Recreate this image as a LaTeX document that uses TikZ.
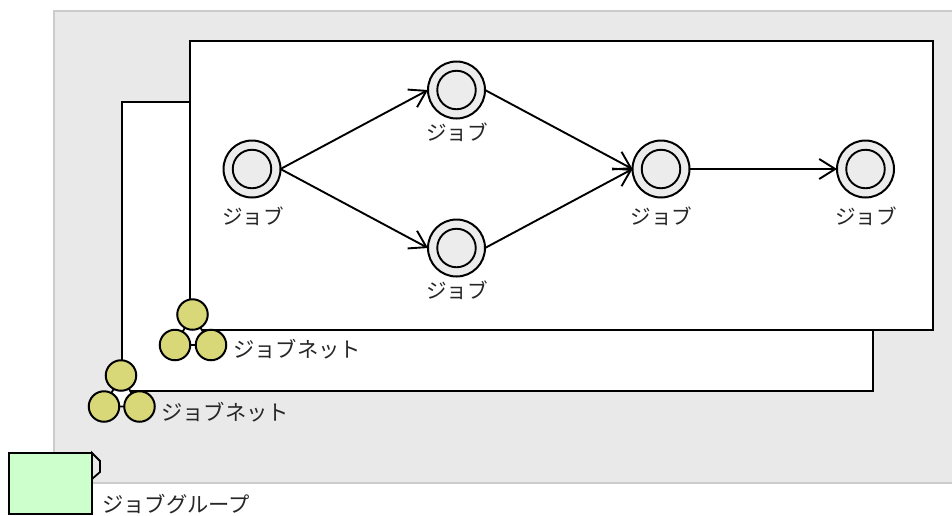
\documentclass[tikz,border=0pt]{standalone}
\usepackage{fontspec}
\setmainfont{Noto Sans CJK JP}
\usetikzlibrary{arrows.meta}
\definecolor{areagray}{HTML}{E9E9E9}
\definecolor{areaedge}{HTML}{CCCCCC}
\definecolor{jobfill}{HTML}{ECECEC}
\definecolor{netfill}{HTML}{D8D878}
\definecolor{groupfill}{HTML}{CCFFCC}
\tikzset{
  x=1pt,y=-1pt,
  panel/.style={draw=black,line width=2pt,fill=white},
  jobouter/.style={circle,draw=black,line width=2pt,fill=jobfill,minimum size=57pt,inner sep=0pt,outer sep=0pt},
  jobinner/.style={circle,draw=black,line width=1.9pt,fill=jobfill,minimum size=38.5pt,inner sep=0pt},
  netball/.style={circle,draw=black,line width=2pt,fill=netfill,minimum size=30.5pt,inner sep=0pt,outer sep=0pt},
  lbl/.style={inner sep=0pt,font=\fontsize{21.3pt}{24pt}\selectfont,text=black!85},
  joblbl/.style={lbl,font=\fontsize{20.6pt}{24pt}\selectfont},
  flow/.style={draw=black,line width=1.9pt,-{Straight Barb[length=16pt,width=20pt,line width=1.9pt]}},
}
\begin{document}
\begin{tikzpicture}
\useasboundingbox (0,0) rectangle (952,515);
\path[fill=areagray,draw=areaedge,line width=1.8pt] (54,11) -- (953,11) -- (953,483) -- (54,483) -- cycle;
\path[panel] (122,102) rectangle (873,391);
\path[panel] (190,41) rectangle (933,330);
% job nodes
\foreach \n/\cx/\cy in {j1/252/169,j2/456.5/90,j3/456.5/248,j4/661/169,j5/865.5/169}{
  \node[jobouter] (\n) at (\cx,\cy) {};
  \node[jobinner] (\n i) at (\cx,\cy) {};
}
\node[joblbl] (l1) at (253,216.5) {ジョブ};
\node[joblbl] (l2) at (457,132.5) {ジョブ};
\node[joblbl] (l3) at (457,290.5) {ジョブ};
\node[joblbl] (l4) at (661.5,216.5) {ジョブ};
\node[joblbl] (l5) at (866,216.5) {ジョブ};
\draw[flow] (j1.east) -- (j2.west);
\draw[flow] (j1.east) -- (j3.west);
\draw[flow] (j2.east) -- (j4.west);
\draw[flow] (j3.east) -- (j4.west);
\draw[flow] (j4.east) -- (j5.west);
% job nets
\coordinate (na) at (192.5,314.5);
\coordinate (nb) at (175,345);
\coordinate (nc) at (211,345);
\path[draw=black,line width=1.8pt,fill=white] (na) -- (nb) -- (nc) -- cycle;
\node[netball] (n1) at (na) {};
\node[netball] (n2) at (nb) {};
\node[netball] (n3) at (nc) {};
\node[lbl,anchor=west] (l6) at (233,349) {ジョブネット};
\coordinate (ma) at (121,375.5);
\coordinate (mb) at (104,406.5);
\coordinate (mc) at (139.5,406.5);
\path[draw=black,line width=1.8pt,fill=white] (ma) -- (mb) -- (mc) -- cycle;
\node[netball] (m1) at (ma) {};
\node[netball] (m2) at (mb) {};
\node[netball] (m3) at (mc) {};
\node[lbl,anchor=west] (l7) at (161,412) {ジョブネット};
% job group
\path[draw=black,line width=1.8pt,fill=areagray] (92,453) -- (100,461) -- (100,472) -- (92,479) -- cycle;
\path[draw=black,line width=2pt,fill=groupfill] (9,452.5) rectangle (92,514);
\node[lbl,anchor=west] (l8) at (102,504) {ジョブグループ};
\end{tikzpicture}
\end{document}
